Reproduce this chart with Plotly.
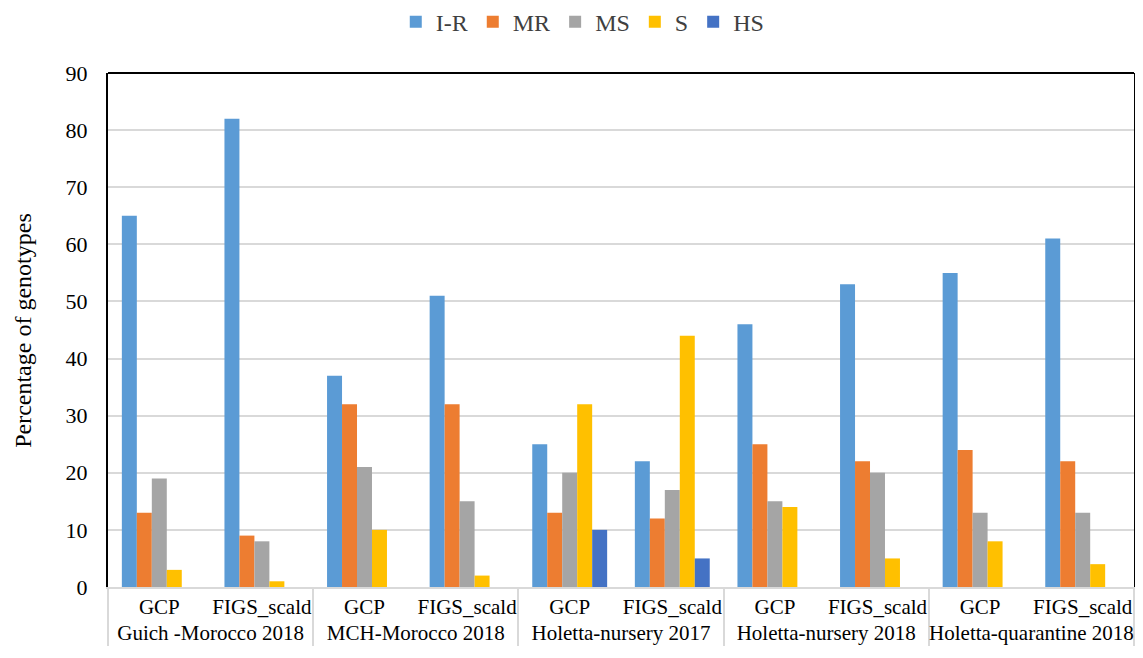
import plotly.graph_objects as go

groups = ["Guich -Morocco 2018", "MCH-Morocco 2018", "Holetta-nursery 2017",
          "Holetta-nursery 2018", "Holetta-quarantine 2018"]
subs = ["GCP", "FIGS_scald"]

series_names = ["I-R", "MR", "MS", "S", "HS"]
ir = [65, 82, 37, 51, 25, 22, 46, 53, 55, 61]
mr = [13, 9, 32, 32, 13, 12, 25, 22, 24, 22]
ms = [19, 8, 21, 15, 20, 17, 15, 20, 13, 13]
s = [3, 1, 10, 2, 32, 44, 14, 5, 8, 4]
hs = [0, 0, 0, 0, 10, 5, 0, 0, 0, 0]
colors = ["#5B9BD5", "#ED7D31", "#A5A5A5", "#FFC000", "#4472C4"]

x_outer = [g for g in groups for _ in subs]
x_inner = [sb for _ in groups for sb in subs]

fig = go.Figure()
for name, vals, col in zip(series_names, [ir, mr, ms, s, hs], colors):
    fig.add_trace(go.Bar(x=[x_outer, x_inner], y=vals, name=name,
                         marker=dict(color=col, line=dict(width=0))))

font = "Liberation Serif, Times New Roman, serif"
fig.update_layout(
    width=1127, height=642,
    margin=dict(l=100, r=1, t=65, b=63),
    paper_bgcolor="white", plot_bgcolor="white",
    barmode="group", bargap=0.27, bargroupgap=0,
    font=dict(family=font, size=21, color="black"),
    legend=dict(orientation="h", x=0.51, xanchor="center", xref="container",
                y=0.978, yanchor="middle", yref="container",
                font=dict(family=font, size=24, color="#404040"),
                itemwidth=30, tracegroupgap=0),
    xaxis=dict(type="multicategory", showline=True, linecolor="#D9D9D9", linewidth=2,
               showdividers=True, dividercolor="#D9D9D9", dividerwidth=2,
               tickangle=0, automargin=False,
               ticks="outside", ticklen=9, tickcolor="rgba(0,0,0,0)",
               tickfont=dict(family=font, size=21, color="black")),
    yaxis=dict(range=[0, 90], dtick=10, showgrid=True, gridcolor="#D9D9D9", gridwidth=2,
               showline=True, linecolor="black", linewidth=2, mirror=True, zeroline=False,
               automargin=False,
               ticks="outside", ticklen=14, tickcolor="rgba(0,0,0,0)",
               tickfont=dict(family=font, size=22, color="black")),
    shapes=[dict(type="line", xref="paper", yref="paper", x0=0, x1=1, y0=1, y1=1,
                 line=dict(color="black", width=2))],
    annotations=[dict(text="Percentage of genotypes", xref="paper", yref="paper",
                      x=-0.083, y=0.5, xanchor="center", yanchor="middle",
                      textangle=-90, showarrow=False,
                      font=dict(family=font, size=24, color="black"))],
)

fig.write_html("out.html")
